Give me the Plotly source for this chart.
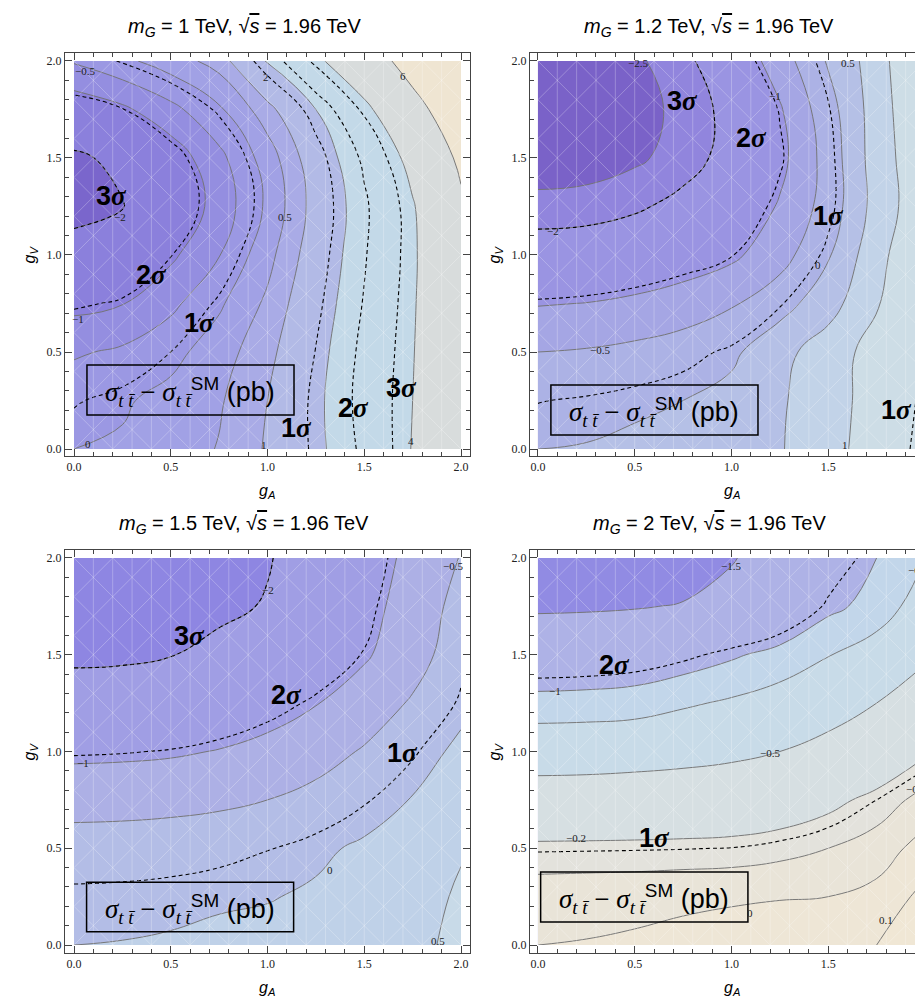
import numpy as np
import plotly.graph_objects as go

# ---------------- data ----------------
GA = [0.0, 0.25, 0.5, 0.75, 1.0, 1.25, 1.5, 1.75, 2.0]   # g_A grid
GV = [0.0, 0.25, 0.5, 0.75, 1.0, 1.25, 1.5, 1.75, 2.0]   # g_V grid

# sigma_tt - sigma_tt^SM (pb); one row per GV value, one column per GA value
DSIG_MG1000 = [
    [0.00, 0.06, 0.22, 0.53, 1.06, 1.79, 2.76, 4.05, 5.30],
    [-0.19, -0.06, 0.16, 0.44, 1.00, 1.81, 2.86, 4.00, 5.30],
    [-0.56, -0.42, -0.16, 0.27, 0.83, 1.70, 2.79, 3.95, 5.30],
    [-1.15, -1.02, -0.62, -0.08, 0.60, 1.52, 2.65, 3.90, 5.30],
    [-1.70, -1.55, -1.10, -0.52, 0.33, 1.35, 2.53, 3.85, 5.40],
    [-2.25, -2.03, -1.45, -0.81, 0.09, 1.23, 2.46, 3.90, 5.75],
    [-2.12, -1.83, -1.30, -0.64, 0.23, 1.38, 2.75, 4.40, 6.30],
    [-1.35, -1.10, -0.65, -0.08, 0.79, 2.00, 3.67, 5.50, 7.00],
    [-0.45, -0.12, 0.25, 0.70, 2.07, 3.73, 5.20, 6.60, 8.00],
]
DSIG_MG1200 = [
    [0.00, 0.02, 0.08, 0.17, 0.30, 0.47, 0.78, 1.30, 1.85],
    [-0.17, -0.13, -0.07, 0.00, 0.15, 0.45, 0.75, 1.25, 1.78],
    [-0.50, -0.46, -0.38, -0.27, -0.10, 0.35, 0.75, 1.20, 1.72],
    [-1.03, -0.99, -0.90, -0.76, -0.55, -0.20, 0.30, 0.95, 1.60],
    [-1.60, -1.55, -1.45, -1.30, -1.10, -0.70, -0.05, 0.85, 1.45],
    [-2.35, -2.30, -2.10, -1.80, -1.45, -0.95, -0.30, 0.70, 1.36],
    [-2.78, -2.75, -2.60, -2.28, -1.75, -1.15, -0.30, 0.75, 1.38],
    [-2.85, -2.83, -2.62, -2.42, -1.75, -1.05, -0.20, 0.75, 1.50],
    [-2.85, -2.82, -2.60, -2.20, -1.40, -0.75, 0.05, 0.75, 1.70],
]
DSIG_MG1500 = [
    [0.00, 0.01, 0.03, 0.07, 0.12, 0.20, 0.30, 0.42, 0.58],
    [-0.10, -0.09, -0.07, -0.04, -0.02, 0.05, 0.17, 0.35, 0.55],
    [-0.33, -0.32, -0.29, -0.24, -0.17, -0.07, 0.06, 0.25, 0.47],
    [-0.65, -0.64, -0.62, -0.58, -0.50, -0.37, -0.19, 0.02, 0.30],
    [-1.12, -1.10, -1.06, -0.98, -0.86, -0.68, -0.46, -0.20, 0.10],
    [-1.60, -1.58, -1.50, -1.38, -1.22, -1.02, -0.76, -0.45, -0.12],
    [-2.15, -2.12, -2.02, -1.85, -1.62, -1.35, -1.06, -0.70, -0.24],
    [-2.35, -2.32, -2.25, -2.12, -1.96, -1.70, -1.20, -0.75, -0.36],
    [-2.45, -2.42, -2.32, -2.18, -2.04, -1.70, -1.30, -0.85, -0.48],
]
DSIG_MG2000 = [
    [0.000, 0.005, 0.015, 0.030, 0.045, 0.060, 0.075, 0.100, 0.180],
    [-0.040, -0.035, -0.030, -0.020, -0.012, -0.005, 0.000, 0.030, 0.130],
    [-0.170, -0.168, -0.166, -0.163, -0.158, -0.135, -0.100, -0.050, 0.040],
    [-0.380, -0.375, -0.365, -0.350, -0.330, -0.300, -0.240, -0.160, -0.060],
    [-0.620, -0.615, -0.600, -0.580, -0.550, -0.500, -0.430, -0.340, -0.220],
    [-0.930, -0.920, -0.900, -0.830, -0.770, -0.700, -0.600, -0.500, -0.380],
    [-1.220, -1.210, -1.180, -1.120, -1.030, -0.930, -0.810, -0.680, -0.530],
    [-1.550, -1.540, -1.520, -1.480, -1.400, -1.280, -1.050, -0.930, -0.670],
    [-1.900, -1.870, -1.800, -1.680, -1.520, -1.360, -1.200, -1.000, -0.800],
]

LEVELS_MG1000 = [-2.5, -2.0, -1.0, -0.5, 0.0, 0.5, 1.0, 2.0, 4.0, 6.0]
LEVELS_MG1200 = [-2.5, -2.0, -1.0, -0.5, 0.0, 0.5, 1.0]
LEVELS_MG1500 = [-2.0, -1.0, -0.5, 0.0, 0.5]
LEVELS_MG2000 = [-1.5, -1.0, -0.8, -0.5, -0.2, -0.1, 0.0, 0.1]

# measured excess and its 1-sigma error (pb): dashed n-sigma curves
SIGMA_CENTER = 0.76
SIGMA_ERR = 0.92

MASS_TEV = ["1", "1.2", "1.5", "2"]
SQRT_S_TEV = "1.96"
TICK_VALUES = [0.0, 0.5, 1.0, 1.5, 2.0]
TICK_LABELS = ["0.0", "0.5", "1.0", "1.5", "2.0"]

# band colours (below first level ... above last level)
COLORS_MG1000 = ["#7962c9", "#7a66cc", "#8b80dc", "#948ee0", "#9b98e3", "#a1a1e5",
                 "#a9abe6", "#b2bae6", "#c3d9e8", "#d8dcdc", "#efe5d2"]
COLORS_MG1200 = ["#7a62c8", "#9185dd", "#9a94e2", "#a5a6e4", "#acb2e5", "#b5c0e6",
                 "#c2d3e8", "#cddde6"]
COLORS_MG1500 = ["#8e86e2", "#a09ee4", "#adb0e5", "#b3bde6", "#bfd1e8", "#c8dae8"]
COLORS_MG2000 = ["#918be3", "#aeb2e6", "#c2d6ea", "#c8dbe8", "#d6dfe2", "#e3e2dc",
                 "#e9e4d8", "#eee6d6", "#f0e7d5"]

# contour value labels (text, g_A, g_V)
VALUE_LABELS = [
    [("−0.5", 0.055, 1.95), ("−2", 0.236, 1.196), ("−1", 0.02, 0.672), ("0", 0.072, 0.026),
     ("0.5", 1.089, 1.196), ("1", 0.982, 0.019), ("2", 0.994, 1.916), ("4", 1.74, 0.04),
     ("6", 1.70, 1.921)],
    [("−2.5", 0.517, 1.99), ("−1", 1.223, 1.818), ("−2", 0.078, 1.125), ("0", 1.447, 0.947),
     ("−0.5", 0.319, 0.512), ("0.5", 1.602, 1.99), ("1", 1.585, 0.019)],
    [("−2", 1.003, 1.836), ("−0.5", 1.958, 1.957), ("−1", 0.047, 0.94), ("0", 1.321, 0.389),
     ("0.5", 1.881, 0.019)],
    [("−1.5", 0.999, 1.96), ("−0.8", 1.964, 1.94), ("−1", 0.086, 1.311), ("−0.5", 1.197, 0.992),
     ("−0.2", 0.198, 0.553), ("−0.1", 1.955, 0.804), ("0", 1.094, 0.165), ("0.1", 1.80, 0.13)],
]
# n-sigma labels (n, g_A, g_V)
SIGMA_LABELS = [
    [(3, 0.193, 1.302), (2, 0.40, 0.898), (1, 0.65, 0.65), (1, 1.149, 0.108),
     (2, 1.442, 0.211), (3, 1.69, 0.314)],
    [(3, 0.749, 1.792), (2, 1.102, 1.603), (1, 1.499, 1.199), (1, 1.852, 0.203)],
    [(3, 0.598, 1.595), (2, 1.097, 1.294), (1, 1.70, 0.992)],
    [(2, 0.396, 1.449), (1, 0.603, 0.553)],
]
# legend box corners (g_A0, g_V0, g_A1, g_V1)
BOXES = [(0.067, 0.175, 1.137, 0.433), (0.067, 0.072, 1.137, 0.330),
         (0.065, 0.069, 1.135, 0.324), (0.014, 0.119, 1.085, 0.377)]

# ---------------- layout geometry ----------------
W, H = 923, 996
SANS = "Liberation Sans, Arial, sans-serif"
SERIF = "Liberation Serif, Times New Roman, serif"
LINE_GRAY = "rgba(115,115,115,0.95)"

PANELS = [
    dict(z=DSIG_MG1000, levels=LEVELS_MG1000, colors=COLORS_MG1000,
         fx=(57, 462), fy=(45, 448), xr=[-0.0465, 2.0465], yr=[-0.036, 2.041]),
    dict(z=DSIG_MG1200, levels=LEVELS_MG1200, colors=COLORS_MG1200,
         fx=(522, 923), fy=(45, 448), xr=[-0.041, 2.031], yr=[-0.036, 2.041]),
    dict(z=DSIG_MG1500, levels=LEVELS_MG1500, colors=COLORS_MG1500,
         fx=(57, 462), fy=(542, 945), xr=[-0.0465, 2.0465], yr=[-0.041, 2.041]),
    dict(z=DSIG_MG2000, levels=LEVELS_MG2000, colors=COLORS_MG2000,
         fx=(522, 923), fy=(542, 945), xr=[-0.041, 2.031], yr=[-0.041, 2.041]),
]

fig = go.Figure()
layout = dict(width=W, height=H, margin=dict(l=0, r=0, t=0, b=0),
              paper_bgcolor="white", plot_bgcolor="white", showlegend=False)
annotations = []
shapes = []

for i, p in enumerate(PANELS):
    k = i + 1
    xa = "x" if k == 1 else f"x{k}"
    ya = "y" if k == 1 else f"y{k}"
    z = np.asarray(p["z"], float)

    # lowest band as a plain backdrop over the data square
    shapes.append(dict(type="rect", xref=xa, yref=ya, x0=GA[0], x1=GA[-1], y0=GV[0], y1=GV[-1],
                       layer="below", line=dict(width=0), fillcolor=p["colors"][0]))
    # each contour level shades the region above it (stacked from low to high)
    for lev, col in zip(p["levels"], p["colors"][1:]):
        fig.add_trace(go.Contour(
            x=GA, y=GV, z=z,
            contours=dict(type="constraint", operation="<", value=lev, showlines=True),
            fillcolor=col, showscale=False,
            line=dict(color=LINE_GRAY, width=1, smoothing=1.2),
            hoverinfo="skip", xaxis=xa, yaxis=ya))
    # dashed n-sigma curves (both sides of the measured value)
    for lo, hi in [(SIGMA_CENTER - 3 * SIGMA_ERR, SIGMA_CENTER - SIGMA_ERR),
                   (SIGMA_CENTER + SIGMA_ERR, SIGMA_CENTER + 3 * SIGMA_ERR)]:
        fig.add_trace(go.Contour(
            x=GA, y=GV, z=z, autocontour=False,
            contours=dict(start=lo, end=hi, size=SIGMA_ERR, coloring="none"),
            showscale=False,
            line=dict(color="black", width=1.1, dash="4px,3px", smoothing=1.2),
            hoverinfo="skip", xaxis=xa, yaxis=ya))

    x0, x1 = p["fx"]
    yt, yb = p["fy"]
    axis_common = dict(
        showgrid=False, zeroline=False, showline=True, linecolor="#444", linewidth=1,
        mirror="ticks", ticks="inside", ticklen=7, tickwidth=1, tickcolor="#444",
        tickvals=TICK_VALUES, ticktext=TICK_LABELS,
        tickfont=dict(family=SERIF, size=12, color="#222"),
        minor=dict(ticks="inside", ticklen=4, tickwidth=1, tickcolor="#444",
                   tickvals=[round(0.1 * m, 1) for m in range(21)], showgrid=False),
    )
    layout["xaxis" if k == 1 else f"xaxis{k}"] = dict(
        axis_common, domain=[x0 / W, x1 / W], range=p["xr"], anchor=ya)
    layout["yaxis" if k == 1 else f"yaxis{k}"] = dict(
        axis_common, domain=[1 - yb / H, 1 - yt / H], range=p["yr"], anchor=xa)

    # triangulation seams of the original rendering (decorative white mesh)
    seam = dict(type="line", xref=xa, yref=ya, layer="above",
                line=dict(color="rgba(255,255,255,0.33)", width=0.8))
    for m in range(1, 20):
        shapes.append(dict(seam, x0=0.1 * m, x1=0.1 * m, y0=0, y1=2))
    for m in range(-9, 10):
        c = 0.2 * m
        a0, a1 = max(0.0, c), min(2.0, 2.0 + c)
        if a1 > a0:
            shapes.append(dict(seam, x0=a0, y0=a0 - c, x1=a1, y1=a1 - c))
    for m in range(1, 20):
        c = 0.2 * m
        a0, a1 = max(0.0, c - 2.0), min(2.0, c)
        if a1 > a0:
            shapes.append(dict(seam, x0=a0, y0=c - a0, x1=a1, y1=c - a1))

    # title
    cx = 236 if k in (1, 3) else 701
    cy = 19 if k in (1, 2) else 516
    annotations.append(dict(
        xref="paper", yref="paper", x=cx / W, y=1 - cy / H, xanchor="center", yanchor="middle",
        showarrow=False, font=dict(family=SANS, size=20, color="black"),
        text=(f"<i>m</i><sub><i>G</i></sub> = {MASS_TEV[i]} TeV, "
              f"√<span style='text-decoration:overline'><i>s</i></span> = {SQRT_S_TEV} TeV")))
    # axis titles
    annotations.append(dict(
        xref="paper", yref="paper", x=(259 if k in (1, 3) else 723.5) / W,
        y=1 - (yb + 35) / H, xanchor="center", yanchor="middle", showarrow=False,
        font=dict(family=SANS, size=16, color="black"), text="<i>g<sub>A</sub></i>"))
    annotations.append(dict(
        xref="paper", yref="paper", x=(x0 - 35) / W, y=1 - ((yt + yb) / 2) / H,
        xanchor="center", yanchor="middle", showarrow=False, textangle=-90,
        font=dict(family=SANS, size=16, color="black"), text="<i>g<sub>V</sub></i>"))
    if k in (2, 4):
        # the last tick label of the right-hand panels runs off the page edge
        annotations.append(dict(
            xref="paper", yref="paper", x=917 / W, y=1 - (yb + 14) / H,
            xanchor="center", yanchor="middle", showarrow=False,
            font=dict(family=SERIF, size=12, color="#222"), text=TICK_LABELS[-1]))

    # contour value labels
    for txt, gx, gy in VALUE_LABELS[i]:
        annotations.append(dict(
            xref=xa, yref=ya, x=gx, y=gy, showarrow=False, xanchor="center", yanchor="middle",
            font=dict(family=SERIF, size=11, color="#222"), text=txt))
    # n-sigma labels
    for nsig, gx, gy in SIGMA_LABELS[i]:
        annotations.append(dict(
            xref=xa, yref=ya, x=gx, y=gy, showarrow=False, xanchor="center", yanchor="middle",
            font=dict(family=SANS, size=27, color="black"),
            text=f"<b>{nsig}<span style='font-family:{SERIF}'><i>σ</i></span></b>"))
    # legend box
    bx0, by0, bx1, by1 = BOXES[i]
    shapes.append(dict(type="rect", xref=xa, yref=ya, x0=bx0, y0=by0, x1=bx1, y1=by1,
                       layer="above", line=dict(color="black", width=1.5),
                       fillcolor="rgba(0,0,0,0)"))
    annotations.append(dict(
        xref=xa, yref=ya, x=(bx0 + bx1) / 2, y=(by0 + by1) / 2 - 0.01, showarrow=False,
        xanchor="center", yanchor="middle", font=dict(family=SANS, size=27, color="black"),
        text=(f"<span style='font-family:{SERIF}'><i>σ</i><sub><i>t t̄</i></sub> − "
              f"<i>σ</i><sub><i>t t̄</i></sub></span><sup>SM</sup> (pb)")))

layout["annotations"] = annotations
layout["shapes"] = shapes
fig.update_layout(**layout)
fig.write_html("out.html")
